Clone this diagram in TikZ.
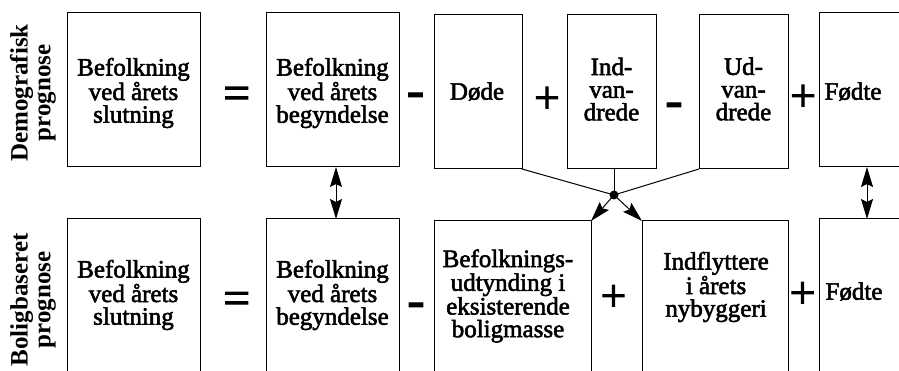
\documentclass[tikz,border=0pt]{standalone}
\usepackage{fontspec}
\setmainfont{Liberation Serif}
\newfontfamily\heavyserif{Liberation Serif}[FakeBold=2.2]
\usetikzlibrary{arrows.meta}
\begin{document}
\begin{tikzpicture}[x=1pt,y=-1pt,
  box/.style={draw, line width=1pt, inner sep=0pt, outer sep=0pt},
  txt/.style={font={\heavyserif\fontsize{25}{22.7}\selectfont}, align=center, inner sep=0pt},
  lbl/.style={font={\bfseries\fontsize{25}{22.7}\selectfont}, align=center, inner sep=0pt, rotate=90},
  plus/.style={font={\heavyserif\fontsize{46}{46}\selectfont}, inner sep=0pt},
  eq/.style={font={\heavyserif\fontsize{48}{48}\selectfont}, inner sep=0pt},
  minus/.style={font={\heavyserif\fontsize{52}{52}\selectfont}, inner sep=0pt},
  conn/.style={line width=1pt},
  arr/.style={line width=1pt, -{Stealth[length=20pt,width=12pt,inset=3pt]}},
  dblarr/.style={line width=1pt, {Stealth[length=20pt,width=12pt,inset=3pt]}-{Stealth[length=20pt,width=12pt,inset=3pt]}}
]
\useasboundingbox (0,0) rectangle (899,371);
\clip (0,0) rectangle (899,371);
% top row boxes
\node[box, minimum width=133pt, minimum height=154pt] (t1) at (133.5,90) {};
\node[box, minimum width=133pt, minimum height=154pt] (t2) at (332.5,90) {};
\node[box, minimum width=88pt, minimum height=154pt] (tD) at (478,92) {};
\node[box, minimum width=89pt, minimum height=154pt] (tI) at (611.5,92) {};
\node[box, minimum width=89pt, minimum height=154pt] (tU) at (743.5,92) {};
\node[box, minimum width=96pt, minimum height=154pt] (tF) at (867,90) {};
% bottom row boxes
\node[box, minimum width=133pt, minimum height=154pt] (b1) at (133.5,296) {};
\node[box, minimum width=133pt, minimum height=154pt] (b2) at (332.5,296) {};
\node[box, minimum width=157pt, minimum height=154pt] (bB) at (512.5,298) {};
\node[box, minimum width=146pt, minimum height=154pt] (bI) at (715,298) {};
\node[box, minimum width=96pt, minimum height=154pt] (bF) at (867,296) {};
% texts top
\node[lbl] (lt) at (33,93) {Demografisk\\prognose};
\node[txt] (t1t) at (133.5,93) {Befolkning\\ved årets\\slutning};
\node[txt] (t2t) at (332.5,93) {Befolkning\\ved årets\\begyndelse};
\node[txt] (tDt) at (477,91.5) {Døde};
\node[txt] (tIt) at (611.5,89.2) {Ind-\\van-\\drede};
\node[txt] (tUt) at (743.5,89) {Ud-\\van-\\drede};
\node[txt] (tFt) at (853,91.5) {Fødte};
% texts bottom
\node[lbl] (lb) at (33,300) {Boligbaseret\\prognose};
\node[txt] (b1t) at (133.5,295) {Befolkning\\ved årets\\slutning};
\node[txt] (b2t) at (332.5,295) {Befolkning\\ved årets\\begyndelse};
\node[txt] (bBt) at (508,296) {Befolknings-\\udtynding i\\eksisterende\\boligmasse};
\node[txt] (bIt) at (716,287) {Indflyttere\\i årets\\nybyggeri};
\node[txt] (bFt) at (854,291.5) {Fødte};
% signs top
\node[eq] (s1) at (236.7,98) {=};
\node[minus] (s2) at (415.5,100) {-};
\node[plus] (s3) at (547,100) {+};
\node[minus] (s4) at (674,110) {-};
\node[plus] (s5) at (803,98) {+};
% signs bottom
\node[eq] (s6) at (236.7,303) {=};
\node[minus] (s7) at (416,310) {-};
\node[plus] (s8) at (613.5,298) {+};
\node[plus] (s9) at (802.5,295) {+};
% connectors
\coordinate (dot) at (614,195);
\draw[conn] (tD.south east) -- (dot);
\draw[conn] (tU.south west) -- (dot);
\draw[conn] (tI.south -| dot) -- (dot);
\fill (dot) circle (4.5pt);
\draw[arr] (dot) -- (bB.north east);
\draw[arr] (dot) -- (bI.north west);
\draw[dblarr] ([xshift=3.5pt]t2.south) -- ([xshift=3.5pt]b2.north);
\draw[dblarr] (tF.south) -- (bF.north);
\end{tikzpicture}
\end{document}
